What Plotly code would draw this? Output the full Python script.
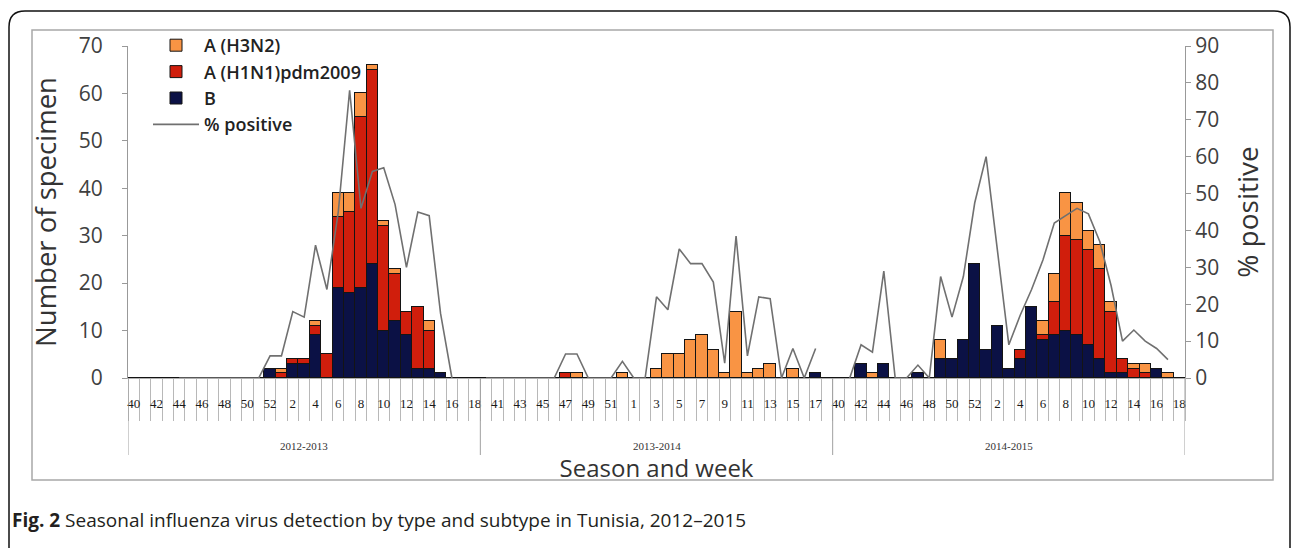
import plotly.graph_objects as go

# ---------------- data ----------------
seasons = ["2012-2013", "2013-2014", "2014-2015"]
season_weeks = list(range(40, 53)) + list(range(1, 19))  # 31 weeks per season
weeks = season_weeks * 3

# Season 2012-2013
b_1 = [0]*12 + [2, 0, 3, 3, 9, 0, 19, 18, 19, 24, 10, 12, 9, 2, 2, 1, 0, 0, 0]
h1_1 = [0]*12 + [0, 1, 1, 1, 2, 5, 15, 17, 36, 41, 22, 10, 5, 13, 8, 0, 0, 0, 0]
h3_1 = [0]*12 + [0, 1, 0, 0, 1, 0, 5, 4, 5, 1, 1, 1, 0, 0, 2, 0, 0, 0, 0]
pos_1 = [None]*4 + [0]*8 + [6, 6, 18, 16.5, 36, 24, 45, 78, 46, 56, 57, 47, 30, 45, 44, 17.5, 0, None, None]

# Season 2013-2014
b_2 = [0]*29 + [1, 0]
h1_2 = [0]*7 + [1] + [0]*23
h3_2 = [0]*8 + [1, 0, 0, 0, 1, 0, 0, 2, 5, 5, 8, 9, 6, 1, 14, 1, 2, 3, 0, 2, 0, 0, 0]
pos_2 = [0]*7 + [6.5, 6.5, 0, 0, 0, 4.5, 0, 0, 22, 18.5, 35, 31, 31, 26, 4, 38.5, 6, 22, 21.5, 0, 8, 0, 8, None]

# Season 2014-2015
b_3 = [0, 0, 3, 0, 3, 0, 0, 1, 0, 4, 4, 8, 24, 6, 11, 2, 4, 15, 8, 9, 10, 9, 7, 4, 1, 1, 0, 0, 2, 0, 0]
h1_3 = [0]*16 + [2, 0, 1, 7, 20, 20, 20, 19, 13, 3, 2, 1, 0, 0, 0]
h3_3 = [0, 0, 0, 1, 0, 0, 0, 0, 0, 4, 0, 0, 0, 0, 0, 0, 0, 0, 3, 6, 9, 8, 4, 5, 2, 0, 1, 2, 0, 1, 0]
pos_3 = [None, 0, 9, 7, 29, 0, 0, 3.5, 0, 27.5, 16.5, 27.5, 47.5, 60, 34, 9, 17, 24, 32, 42, 44, 46, 44.5, 37, 25, 10, 13, 10, 8, 5, None]

type_b = b_1 + b_2 + b_3
h1n1 = h1_1 + h1_2 + h1_3
h3n2 = h3_1 + h3_2 + h3_3
pct_pos = pos_1 + pos_2 + pos_3

n = len(weeks)
idx = list(range(n))
tick_idx = idx[::2]
tick_txt = [str(weeks[i]) for i in tick_idx]
n_season = len(season_weeks)

# ---------------- figure ----------------
W, H = 1292, 548
L, R, T, B = 128, 107, 46, 170
pw, ph = W - L - R, H - T - B

def px(xp):
    return (xp - L) / pw

def py(yp):
    return (H - B - yp) / ph

bar_line = dict(color="#141414", width=1)
fig = go.Figure()
fig.add_trace(go.Bar(x=idx, y=type_b, name="B", marker=dict(color="#0b1145", line=bar_line),
                     width=1, legendrank=3))
fig.add_trace(go.Bar(x=idx, y=h1n1, name="A (H1N1)pdm2009", marker=dict(color="#d01e0c", line=bar_line),
                     width=1, legendrank=2))
fig.add_trace(go.Bar(x=idx, y=h3n2, name="A (H3N2)", marker=dict(color="#f99444", line=bar_line),
                     width=1, legendrank=1))
fig.add_trace(go.Scatter(x=idx, y=pct_pos, name="% positive", mode="lines", yaxis="y2",
                         line=dict(color="#707070", width=1.6), connectgaps=False, legendrank=4))

axis_font = dict(family="Open Sans", size=21, color="#404040")

fig.update_layout(
    width=W, height=H,
    margin=dict(l=L, r=R, t=T, b=B, autoexpand=False),
    paper_bgcolor="white", plot_bgcolor="white",
    barmode="stack", bargap=0,
    showlegend=True,
    legend=dict(x=px(148), y=py(27), xanchor="left", yanchor="top", traceorder="normal",
                font=dict(family="Open Sans", size=18, color="#222222", weight=600),
                bgcolor="rgba(0,0,0,0)", tracegroupgap=0, itemwidth=46),
    xaxis=dict(range=[-0.5, n - 0.5], tickmode="array", tickvals=tick_idx, ticktext=tick_txt,
               ticks="", showline=True, linecolor="#b0b0b0", linewidth=1, showgrid=False,
               zeroline=False, ticklabelstandoff=13, automargin=False,
               tickfont=dict(family="Liberation Serif", size=13, color="#1a1a1a"),
               minor=dict(tickmode="array", tickvals=[i - 0.5 for i in range(n + 1)],
                          ticks="outside", ticklen=42, tickcolor="#b8b8b8", tickwidth=1, showgrid=False),
               title=dict(text="Season and week", font=dict(family="Open Sans", size=24, color="#333333"),
                          standoff=50)),
    yaxis=dict(range=[0, 70], dtick=10, showline=True, linecolor="#999999", ticks="outside",
               ticklen=5, tickcolor="#999999", showgrid=False, zeroline=False, automargin=False,
               tickfont=axis_font, ticklabelstandoff=15,
               title=dict(text="Number of specimen", font=dict(family="Open Sans", size=27.5, color="#333333"),
                          standoff=14)),
    yaxis2=dict(range=[0, 90], dtick=10, overlaying="y", side="right", showline=True,
                linecolor="#999999", ticks="outside", ticklen=5, tickcolor="#999999", automargin=False,
                showgrid=False, zeroline=False, tickfont=axis_font, ticklabelstandoff=0,
                title=dict(text="% positive", font=dict(family="Open Sans", size=28, color="#333333"),
                           standoff=20)),
)

# season labels
for s, name in enumerate(seasons):
    fig.add_annotation(x=s * n_season + (n_season - 1) / 2, xref="x", y=py(446), yref="paper",
                       yanchor="middle", text=name, showarrow=False,
                       font=dict(family="Liberation Serif", size=11, color="#333333"))

# season divider lines (axis extensions)
for k in range(len(seasons) + 1):
    fig.add_shape(type="line", xref="x", yref="paper", x0=k * n_season - 0.5, x1=k * n_season - 0.5,
                  y0=0, y1=py(455), line=dict(color="#a0a0a0", width=1))

# caption
fig.add_annotation(x=px(10), xref="paper", xanchor="left", y=py(520), yref="paper", yanchor="middle",
                   text="<b>Fig. 2</b> Seasonal influenza virus detection by type and subtype in Tunisia, 2012\u20132015",
                   showarrow=False, font=dict(family="Open Sans", size=19, color="#231f20"))

# inner gray frame
fig.add_shape(type="rect", xref="paper", yref="paper", x0=px(32), x1=px(1273), y0=py(480), y1=py(30),
              line=dict(color="#a8a8a8", width=1.5), layer="below")

# outer rounded frame
rx, ry = 16 / pw, 16 / ph
x0o, x1o, yt, yb = px(9), px(1290), py(11), py(560)
path = (f"M {x0o},{yb} L {x0o},{yt - ry} Q {x0o},{yt} {x0o + rx},{yt} "
        f"L {x1o - rx},{yt} Q {x1o},{yt} {x1o},{yt - ry} L {x1o},{yb}")
fig.add_shape(type="path", xref="paper", yref="paper", path=path, line=dict(color="#111111", width=1.5))

fig.write_html("out.html", config={"displayModeBar": False},
               post_script="document.body.style.margin='0';")
